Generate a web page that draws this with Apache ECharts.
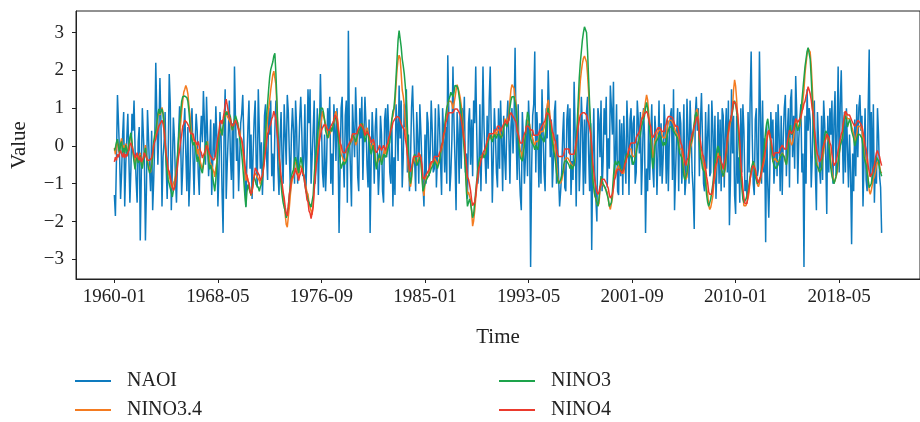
<!DOCTYPE html>
<html>
<head>
<meta charset="utf-8">
<script src="https://cdn.jsdelivr.net/npm/echarts@6/dist/echarts.min.js"></script>
<style>
  html, body { margin: 0; padding: 0; background: #fff; }
  #chart { width: 920px; height: 422px; }
</style>
</head>
<body>
<div id="chart"></div>
<script>
// Monthly index values, January 1960 to October 2021 (one row per year)
const naoi = [
  -1.30,-1.85,-0.40,1.35,0.60,-0.20,-1.40,-0.70,0.30,0.90,-1.60,-0.50,
  0.20,0.85,-0.30,-1.50,-0.60,0.85,0.40,1.20,-0.10,-0.90,-1.50,0.10,
  0.50,-2.50,-0.80,1.00,0.30,-0.40,-2.50,-1.10,0.95,0.20,-0.60,-1.20,
  0.40,-1.70,-0.90,0.10,2.20,0.80,-0.50,0.40,1.80,0.60,-1.60,-0.30,
  0.10,0.90,-0.50,-1.40,-0.20,1.90,1.10,-1.70,-0.60,0.75,0.20,-0.90,
  -1.50,-0.40,0.30,1.05,0.20,-1.30,-0.60,0.40,1.00,-0.20,-1.20,0.50,
  -1.60,-0.80,0.60,1.00,-0.30,-1.30,0.10,0.85,0.40,-0.70,-1.30,0.20,
  0.80,0.10,1.45,0.60,-0.50,1.30,0.30,-0.80,-0.20,0.70,-1.30,-0.40,
  0.60,-0.30,1.05,0.20,-1.60,-0.70,0.90,0.30,-1.20,-2.30,0.40,1.50,
  -1.40,-0.50,0.30,1.20,-0.20,-0.90,0.60,-1.40,2.10,0.70,-0.40,0.20,
  -1.20,-0.30,0.60,0.85,1.35,0.20,-0.70,-1.60,-0.40,0.50,1.20,-0.60,
  0.30,-1.40,-0.20,0.70,1.20,-0.50,-1.10,1.50,0.40,-0.60,0.10,-1.30,
  -0.40,0.80,1.10,-0.30,-0.90,1.00,0.30,1.20,-0.80,-0.20,-1.20,0.40,
  1.20,0.50,-0.60,-1.30,0.20,0.90,-0.40,-1.00,1.10,0.30,-0.50,1.35,
  0.90,-0.20,-1.20,0.30,1.00,0.40,-1.00,1.20,0.50,-1.00,-0.30,0.70,
  1.30,0.40,-0.80,-0.30,1.10,-1.20,-0.20,1.50,0.60,1.50,-1.00,-0.30,
  0.40,1.20,-1.00,-0.30,1.00,-1.30,0.20,1.90,0.60,-0.70,-1.10,0.30,
  -1.20,-0.40,1.00,0.30,1.30,-1.00,-0.20,-1.30,1.10,0.50,-0.40,1.00,
  0.20,-2.30,-0.60,1.00,1.30,-0.30,-1.10,0.80,1.20,-1.50,3.05,0.30,
  -0.60,-1.60,1.10,0.40,-0.30,1.55,0.60,-0.80,-1.20,1.00,0.20,1.30,
  -0.90,0.30,1.30,0.60,-0.50,-1.10,0.70,-2.30,-0.40,0.90,0.20,-1.00,
  0.50,1.00,-0.20,-1.30,-0.60,0.80,0.30,-1.20,-1.50,0.70,1.00,-0.30,
  1.10,0.40,-0.70,-1.00,0.60,-1.60,-0.30,-1.30,1.10,0.60,-0.40,1.60,
  0.20,1.20,-1.10,-0.30,1.10,0.50,1.50,-0.70,0.30,-1.20,-0.40,1.00,
  1.60,0.60,-0.40,-1.20,0.90,0.20,-1.00,1.10,0.40,-0.50,-1.00,-1.60,
  0.30,-1.00,0.90,0.60,-0.80,-0.20,1.20,0.40,-0.70,-0.60,1.00,-1.10,
  -0.30,1.10,0.60,-0.40,-1.30,1.00,0.30,-0.70,0.50,-1.00,2.40,0.90,
  -1.20,-0.70,0.20,2.10,0.60,-0.40,-1.70,0.90,0.30,-1.00,1.20,-0.60,
  1.00,0.40,1.30,-0.70,-0.20,-1.40,0.60,1.00,-0.50,0.70,-0.80,1.20,
  0.60,2.10,0.30,-1.00,-0.70,1.10,-1.20,0.20,2.10,0.50,-0.30,-1.00,
  0.80,-0.60,1.20,2.10,0.40,-1.50,-0.30,1.00,0.30,-0.70,-1.10,1.00,
  -0.60,1.20,0.20,-1.20,0.80,-0.30,-0.90,0.60,1.20,0.30,-1.00,0.50,
  1.00,-0.20,0.70,2.60,0.30,-0.90,1.10,-0.60,-1.30,-1.70,0.90,0.20,
  -1.00,-0.30,0.70,-0.80,1.20,0.40,-3.20,-0.60,0.80,1.10,2.50,-0.70,
  0.90,0.30,-1.10,0.60,-1.00,1.50,0.40,-0.70,-1.20,1.00,0.20,2.00,
  1.00,-0.30,0.70,-1.10,-0.40,0.90,1.20,-1.00,0.30,-0.80,-1.60,-1.20,
  -0.70,0.30,0.90,-1.10,-1.20,0.70,1.10,-0.20,1.00,-1.30,-0.40,-0.90,
  1.70,0.40,-1.60,0.20,1.00,-1.20,-0.30,1.30,0.50,-1.30,0.70,-1.00,
  0.90,1.30,-0.20,-1.20,0.60,-2.75,-0.40,1.00,-0.70,-1.40,-2.00,1.00,
  0.70,-0.30,1.20,-1.20,-0.40,1.00,0.30,1.30,-1.10,0.20,-0.60,1.60,
  1.00,0.30,1.70,-0.90,-0.20,1.10,-1.20,-1.30,0.70,-0.80,0.60,-1.30,
  0.80,-0.20,-1.00,1.20,0.30,-1.30,0.70,1.00,-0.50,0.60,0.80,-1.00,
  -0.70,1.20,0.70,-0.20,0.90,-1.30,-0.40,1.00,0.30,-2.30,-0.60,-1.20,
  0.70,-0.90,0.20,1.10,-0.60,-1.10,0.80,0.30,-1.30,-0.20,1.20,-0.80,
  0.60,-1.00,-0.30,1.10,0.40,-1.00,0.70,-1.20,0.20,0.80,1.00,-0.90,
  1.50,-1.70,-0.70,0.30,1.00,-1.20,0.90,0.60,-1.00,-0.30,1.10,-1.30,
  -0.90,1.25,0.30,-1.00,1.20,0.40,-0.70,-1.20,-2.20,0.80,1.30,0.40,
  1.00,-0.80,0.60,1.40,0.20,-1.00,-1.20,0.90,-0.60,0.30,1.10,-0.80,
  -0.70,1.20,0.40,-1.00,0.80,-1.40,-0.50,0.90,-1.00,0.70,-1.20,1.00,
  0.80,-1.10,0.30,1.00,-0.70,1.20,-2.10,-0.90,1.50,-0.20,0.80,-1.30,
  -1.80,0.80,-1.00,-0.30,-1.50,1.00,-0.70,1.10,0.40,-1.20,-0.90,-1.40,
  0.90,-0.70,1.20,2.50,0.30,-1.00,-1.30,0.70,1.00,-0.80,-0.60,2.50,
  0.80,-1.00,1.20,-0.70,0.20,-2.55,0.60,-1.00,-1.90,-0.70,0.90,0.20,
  0.70,-1.00,-0.40,0.90,-0.80,1.10,0.30,-1.20,0.80,-1.30,0.20,1.00,
  1.35,-0.80,0.40,1.00,-1.10,1.20,1.50,-0.30,0.80,-0.60,1.85,0.90,
  -1.00,0.20,0.70,1.10,-0.70,-0.20,-3.20,0.80,-1.00,1.50,0.40,1.00,
  0.70,-1.10,-0.30,1.00,1.20,-0.70,-1.70,0.90,0.20,-0.60,-1.00,0.80,
  -0.90,1.20,0.60,-0.30,-1.80,0.80,-0.70,1.00,0.30,1.20,-1.00,0.70,
  1.45,-0.80,0.30,2.10,-0.70,1.10,2.00,0.40,-1.00,0.90,-0.70,1.00,
  1.00,-1.10,0.30,-0.70,-2.60,-0.20,-1.20,0.70,-0.80,1.10,-0.30,1.00,
  1.35,0.40,0.80,-1.60,-0.40,1.00,-0.90,-1.20,1.00,2.55,-0.80,0.90,
  -1.00,1.10,-1.50,-0.40,-1.00,1.00,0.30,-0.80,-1.10,-2.30
];

const nino34 = [
  -0.05,-0.22,0.04,0.12,-0.12,-0.18,0.08,0.20,-0.08,0.02,-0.14,0.06,
  -0.02,-0.18,-0.10,0.16,0.30,0.08,-0.12,-0.32,-0.48,-0.28,-0.22,-0.34,
  -0.28,-0.18,-0.42,-0.52,-0.30,-0.18,0.02,-0.24,-0.38,-0.52,-0.62,-0.70,
  -0.48,-0.26,0.04,0.22,0.28,0.52,0.78,0.92,0.82,0.90,1.02,0.88,
  0.58,0.16,-0.24,-0.52,-0.72,-0.78,-0.92,-1.04,-1.12,-0.98,-0.92,-0.78,
  -0.58,-0.32,0.04,0.32,0.58,0.92,1.18,1.42,1.50,1.60,1.52,1.38,
  1.08,0.82,0.48,0.32,0.18,0.22,0.08,-0.02,-0.22,-0.08,-0.28,-0.42,
  -0.38,-0.62,-0.48,-0.28,-0.22,0.04,0.12,-0.18,-0.42,-0.38,-0.52,-0.62,
  -0.68,-0.82,-0.58,-0.42,-0.08,0.22,0.38,0.44,0.28,0.52,0.72,0.78,
  0.92,0.78,0.82,0.68,0.62,0.48,0.42,0.52,0.58,0.72,0.68,0.62,
  0.48,0.42,0.18,0.12,-0.12,-0.42,-0.68,-0.92,-0.78,-0.82,-1.02,-1.18,
  -1.32,-1.28,-1.02,-0.78,-0.72,-0.68,-0.82,-0.78,-0.92,-1.02,-0.98,-0.82,
  -0.58,-0.32,0.12,0.38,0.72,0.98,1.22,1.48,1.68,1.88,1.98,2.02,
  1.62,1.02,0.28,-0.22,-0.62,-0.88,-1.12,-1.28,-1.52,-1.82,-2.08,-2.15,
  -1.88,-1.62,-1.28,-1.02,-0.88,-0.82,-0.48,-0.42,-0.52,-0.68,-0.82,-0.58,
  -0.52,-0.58,-0.72,-0.78,-0.92,-1.08,-1.22,-1.28,-1.52,-1.48,-1.72,-1.82,
  -1.52,-1.08,-0.72,-0.48,-0.22,0.02,0.28,0.52,0.68,0.92,0.78,0.82,
  0.58,0.52,0.28,0.22,0.32,0.38,0.42,0.52,0.62,0.82,0.92,0.78,
  0.62,0.28,0.02,-0.22,-0.28,-0.32,-0.42,-0.38,-0.32,-0.18,-0.12,0.02,
  -0.02,0.12,0.18,0.32,0.22,0.02,0.08,0.32,0.38,0.52,0.58,0.62,
  0.58,0.42,0.28,0.42,0.48,0.38,0.22,0.02,-0.12,0.02,0.08,-0.02,
  -0.28,-0.52,-0.48,-0.38,-0.32,-0.28,-0.42,-0.28,-0.22,-0.08,-0.22,-0.12,
  0.02,0.08,0.22,0.48,0.72,0.78,0.82,1.12,1.58,2.02,2.28,2.40,
  2.32,1.92,1.48,1.32,1.08,0.62,0.18,-0.22,-0.62,-0.92,-1.08,-0.88,
  -0.48,-0.42,-0.28,-0.42,-0.48,-0.38,-0.32,-0.22,-0.32,-0.72,-1.12,-1.32,
  -0.98,-0.82,-0.78,-0.82,-0.68,-0.62,-0.48,-0.52,-0.38,-0.32,-0.28,-0.42,
  -0.52,-0.48,-0.32,-0.18,-0.12,0.02,0.22,0.38,0.72,0.88,1.12,1.18,
  1.22,1.18,1.12,0.98,1.12,1.28,1.48,1.62,1.58,1.42,1.28,1.08,
  0.82,0.48,0.12,-0.38,-1.02,-1.28,-1.22,-1.18,-1.42,-1.72,-2.12,-1.98,
  -1.72,-1.38,-1.08,-0.82,-0.58,-0.42,-0.28,-0.32,-0.22,-0.18,-0.22,-0.08,
  0.08,0.22,0.28,0.32,0.18,0.22,0.28,0.32,0.38,0.28,0.42,0.38,
  0.42,0.28,0.22,0.32,0.48,0.72,0.68,0.62,0.58,0.82,1.18,1.48,
  1.62,1.58,1.52,1.28,1.12,0.68,0.32,0.08,-0.12,-0.18,-0.32,-0.08,
  0.12,0.28,0.52,0.68,0.72,0.58,0.32,0.28,0.22,0.08,0.02,0.12,
  0.08,0.12,0.18,0.32,0.38,0.42,0.38,0.42,0.58,0.82,1.08,1.22,
  0.98,0.72,0.48,0.32,0.08,0.02,-0.22,-0.48,-0.82,-0.98,-1.02,-0.98,
  -0.92,-0.78,-0.62,-0.38,-0.32,-0.28,-0.32,-0.28,-0.42,-0.38,-0.52,-0.48,
  -0.52,-0.38,-0.08,0.32,0.78,1.28,1.72,1.98,2.18,2.32,2.38,2.36,
  2.22,1.88,1.42,0.88,0.38,-0.22,-0.78,-1.08,-1.32,-1.38,-1.52,-1.58,
  -1.52,-1.18,-1.02,-0.98,-1.02,-0.98,-1.12,-1.08,-1.22,-1.42,-1.58,-1.68,
  -1.72,-1.38,-1.08,-0.82,-0.68,-0.62,-0.58,-0.52,-0.48,-0.62,-0.72,-0.68,
  -0.72,-0.48,-0.42,-0.28,-0.32,-0.08,-0.12,-0.08,-0.22,-0.28,-0.32,-0.28,
  -0.08,0.02,0.08,0.22,0.38,0.72,0.78,0.92,0.98,1.18,1.35,1.22,
  0.88,0.62,0.38,0.02,-0.32,-0.18,0.12,0.18,0.32,0.28,0.42,0.38,
  0.42,0.28,0.22,0.18,0.22,0.32,0.48,0.62,0.68,0.72,0.68,0.72,
  0.58,0.62,0.38,0.42,0.28,0.12,-0.08,-0.12,-0.08,-0.32,-0.62,-0.78,
  -0.88,-0.82,-0.58,-0.42,-0.08,0.02,0.12,0.28,0.52,0.78,0.92,0.98,
  0.72,0.18,-0.12,-0.28,-0.42,-0.48,-0.62,-0.78,-1.12,-1.28,-1.58,-1.68,
  -1.62,-1.48,-1.32,-0.98,-0.82,-0.58,-0.42,-0.18,-0.22,-0.38,-0.62,-0.68,
  -0.82,-0.78,-0.62,-0.28,0.02,0.32,0.48,0.62,0.72,1.02,1.48,1.75,
  1.58,1.22,0.78,0.42,-0.18,-0.72,-0.98,-1.32,-1.58,-1.62,-1.58,-1.62,
  -1.38,-1.22,-0.88,-0.72,-0.58,-0.42,-0.48,-0.62,-0.78,-1.02,-1.08,-0.98,
  -0.88,-0.72,-0.58,-0.48,-0.32,0.02,0.22,0.38,0.42,0.28,0.12,-0.18,
  -0.42,-0.38,-0.32,-0.28,-0.42,-0.38,-0.42,-0.28,-0.32,-0.18,-0.22,-0.28,
  -0.42,-0.48,-0.28,0.02,0.22,0.18,0.02,0.08,0.22,0.48,0.62,0.68,
  0.52,0.48,0.52,0.72,0.88,1.22,1.48,1.92,2.18,2.42,2.58,2.62,
  2.48,2.12,1.58,0.92,0.38,-0.12,-0.42,-0.48,-0.62,-0.68,-0.72,-0.58,
  -0.32,-0.18,0.08,0.22,0.28,0.32,0.08,-0.12,-0.42,-0.68,-0.82,-0.98,
  -0.92,-0.88,-0.72,-0.48,-0.22,0.02,0.12,0.18,0.52,0.78,0.92,0.78,
  0.72,0.68,0.72,0.68,0.52,0.48,0.32,0.08,0.18,0.32,0.52,0.48,
  0.52,0.48,0.42,0.18,-0.12,-0.32,-0.38,-0.62,-0.88,-1.18,-1.28,-1.18,
  -1.02,-0.88,-0.82,-0.68,-0.52,-0.42,-0.38,-0.52,-0.68,-0.72
];

const nino3 = [
  -0.12,-0.05,0.10,0.18,-0.02,-0.20,0.05,0.12,-0.18,-0.05,-0.20,0.02,
  0.05,-0.25,0.02,0.22,0.35,0.10,-0.20,-0.42,-0.62,-0.38,-0.30,-0.45,
  -0.38,-0.25,-0.50,-0.60,-0.38,-0.20,-0.05,-0.30,-0.45,-0.60,-0.72,-0.75,
  -0.55,-0.30,0.10,0.30,0.40,0.62,0.85,0.98,0.85,0.92,0.98,0.85,
  0.50,0.02,-0.40,-0.72,-0.90,-1.00,-1.12,-1.22,-1.35,-1.18,-1.10,-0.90,
  -0.62,-0.22,0.18,0.58,0.88,1.18,1.30,1.25,1.32,1.35,1.28,1.18,
  0.92,0.58,0.30,0.12,0.02,0.10,-0.02,-0.22,-0.42,-0.28,-0.45,-0.55,
  -0.60,-0.72,-0.50,-0.28,0.02,0.12,-0.12,-0.40,-0.62,-0.50,-0.62,-0.82,
  -1.02,-1.20,-0.88,-0.50,-0.12,0.30,0.52,0.42,0.28,0.52,0.68,0.82,
  0.90,0.82,0.92,0.88,0.78,0.58,0.42,0.52,0.70,0.80,0.78,0.62,
  0.42,0.20,0.02,-0.22,-0.52,-0.90,-1.30,-1.62,-1.22,-1.02,-1.12,-1.22,
  -1.30,-1.18,-0.92,-0.82,-0.90,-1.02,-0.98,-1.10,-1.20,-1.08,-1.02,-0.82,
  -0.50,-0.08,0.40,0.80,1.12,1.50,1.82,2.02,2.12,2.22,2.38,2.45,
  1.92,1.20,0.40,-0.30,-0.72,-1.02,-1.30,-1.50,-1.62,-1.72,-1.90,-1.80,
  -1.60,-1.30,-1.02,-0.80,-0.70,-0.62,-0.40,-0.30,-0.42,-0.60,-0.72,-0.50,
  -0.30,-0.42,-0.60,-0.80,-1.02,-1.20,-1.30,-1.42,-1.50,-1.52,-1.62,-1.60,
  -1.30,-0.80,-0.40,-0.10,0.20,0.50,0.80,1.00,1.05,1.00,0.88,0.70,
  0.40,0.30,0.20,0.22,0.40,0.50,0.38,0.50,0.70,0.80,0.82,0.60,
  0.30,0.00,-0.40,-0.60,-0.50,-0.42,-0.50,-0.52,-0.40,-0.30,-0.12,0.02,
  0.10,0.20,0.30,0.28,0.20,0.10,0.20,0.30,0.40,0.42,0.50,0.60,
  0.50,0.30,0.10,0.22,0.40,0.30,0.12,-0.10,-0.22,-0.10,0.02,-0.10,
  -0.40,-0.62,-0.42,-0.30,-0.20,-0.32,-0.50,-0.40,-0.22,-0.20,-0.30,-0.22,
  -0.10,0.02,0.10,0.42,0.70,0.92,1.00,1.32,1.80,2.30,2.80,3.05,
  3.00,2.62,2.30,2.12,1.90,1.58,1.20,0.50,-0.30,-0.82,-1.00,-0.80,
  -0.50,-0.30,-0.22,-0.30,-0.52,-0.50,-0.40,-0.30,-0.42,-0.80,-1.20,-1.22,
  -1.00,-0.92,-0.90,-0.80,-0.82,-0.70,-0.60,-0.62,-0.50,-0.40,-0.42,-0.50,
  -0.60,-0.50,-0.42,-0.20,0.02,0.10,0.30,0.52,0.80,1.00,1.10,1.22,
  1.30,1.42,1.40,1.30,1.42,1.60,1.65,1.58,1.50,1.30,1.10,0.90,
  0.60,0.20,-0.20,-0.62,-1.20,-1.60,-1.50,-1.40,-1.52,-1.70,-1.90,-1.80,
  -1.50,-1.20,-0.90,-0.60,-0.42,-0.30,-0.32,-0.30,-0.20,-0.32,-0.30,-0.20,
  0.00,0.10,0.22,0.30,0.20,0.10,0.22,0.30,0.32,0.20,0.30,0.32,
  0.30,0.20,0.22,0.30,0.50,0.62,0.60,0.50,0.52,0.70,1.00,1.20,
  1.30,1.32,1.30,1.28,1.00,0.60,0.20,-0.10,-0.30,-0.32,-0.40,-0.20,
  0.00,0.30,0.60,0.90,0.80,0.50,0.20,0.10,0.12,0.00,-0.10,0.02,
  0.00,-0.10,0.10,0.30,0.32,0.20,0.22,0.10,0.30,0.50,0.80,1.00,
  0.80,0.50,0.30,0.10,-0.10,-0.22,-0.40,-0.70,-0.90,-1.00,-1.02,-0.90,
  -0.80,-0.70,-0.50,-0.40,-0.42,-0.40,-0.42,-0.50,-0.60,-0.50,-0.62,-0.60,
  -0.50,-0.30,0.10,0.60,1.20,1.80,2.20,2.50,2.80,3.00,3.15,3.20,
  3.00,2.50,1.80,1.10,0.50,-0.30,-0.90,-1.10,-1.30,-1.40,-1.50,-1.60,
  -1.40,-1.10,-0.80,-0.90,-1.00,-1.02,-1.10,-1.20,-1.30,-1.40,-1.60,-1.60,
  -1.50,-1.20,-0.80,-0.50,-0.40,-0.50,-0.52,-0.40,-0.50,-0.60,-0.70,-0.72,
  -0.60,-0.40,-0.30,-0.20,-0.30,-0.22,-0.20,-0.30,-0.40,-0.50,-0.42,-0.40,
  -0.20,0.00,0.10,0.12,0.30,0.50,0.60,0.70,0.80,1.00,1.15,1.00,
  0.70,0.40,0.10,-0.30,-0.60,-0.40,0.00,0.10,0.12,0.20,0.30,0.32,
  0.20,0.10,0.00,0.10,0.02,0.10,0.30,0.40,0.50,0.52,0.50,0.50,
  0.40,0.42,0.30,0.30,0.20,0.00,-0.20,-0.22,-0.30,-0.50,-0.80,-0.90,
  -0.90,-0.70,-0.50,-0.30,0.00,0.10,0.20,0.40,0.60,0.80,0.90,0.95,
  0.60,0.10,-0.30,-0.40,-0.60,-0.62,-0.70,-1.00,-1.30,-1.50,-1.60,-1.62,
  -1.40,-1.20,-1.00,-0.70,-0.40,-0.30,-0.10,0.00,-0.10,-0.30,-0.50,-0.70,
  -0.80,-0.70,-0.50,-0.20,0.20,0.50,0.60,0.70,0.72,0.90,1.10,1.20,
  1.10,0.90,0.60,0.20,-0.40,-0.80,-1.10,-1.40,-1.50,-1.52,-1.40,-1.42,
  -1.20,-1.00,-0.80,-0.60,-0.50,-0.40,-0.60,-0.80,-0.90,-1.00,-1.02,-0.90,
  -0.80,-0.60,-0.40,-0.20,0.10,0.40,0.60,0.72,0.50,0.30,0.10,-0.20,
  -0.40,-0.50,-0.52,-0.60,-0.62,-0.50,-0.40,-0.30,-0.32,-0.20,-0.22,-0.30,
  -0.40,-0.50,-0.30,0.10,0.40,0.55,0.30,0.32,0.40,0.50,0.60,0.62,
  0.40,0.42,0.60,0.90,1.20,1.50,1.80,2.10,2.30,2.50,2.60,2.65,
  2.30,1.80,1.20,0.60,0.10,-0.30,-0.50,-0.52,-0.60,-0.70,-0.72,-0.60,
  -0.20,0.00,0.30,0.40,0.42,0.30,0.10,-0.30,-0.60,-0.80,-0.90,-1.00,
  -0.90,-0.80,-0.60,-0.40,-0.20,0.00,0.10,0.20,0.40,0.70,0.80,0.70,
  0.50,0.60,0.70,0.62,0.40,0.30,0.20,0.00,0.02,0.20,0.30,0.32,
  0.30,0.32,0.20,0.00,-0.30,-0.40,-0.50,-0.70,-0.90,-1.10,-1.12,-1.00,
  -0.80,-0.60,-0.50,-0.40,-0.30,-0.32,-0.40,-0.60,-0.62,-0.80
];

const nino4 = [
  -0.42,-0.30,-0.38,-0.22,-0.30,-0.18,-0.12,-0.22,-0.30,-0.18,-0.32,-0.22,
  -0.28,-0.18,-0.12,0.02,0.08,-0.02,-0.12,-0.22,-0.32,-0.28,-0.18,-0.32,
  -0.38,-0.28,-0.42,-0.38,-0.32,-0.18,-0.22,-0.32,-0.38,-0.42,-0.38,-0.42,
  -0.32,-0.18,0.02,0.12,0.18,0.32,0.28,0.52,0.58,0.62,0.68,0.58,
  0.42,0.08,-0.22,-0.38,-0.62,-0.68,-0.82,-0.98,-1.08,-1.18,-1.12,-0.98,
  -0.78,-0.52,-0.28,-0.12,0.12,0.28,0.52,0.58,0.68,0.72,0.62,0.58,
  0.52,0.38,0.32,0.28,0.32,0.18,0.22,0.08,0.02,0.12,-0.02,-0.12,
  -0.18,-0.32,-0.28,-0.18,-0.12,0.02,-0.02,-0.12,-0.22,-0.18,-0.32,-0.28,
  -0.38,-0.32,-0.18,0.02,0.22,0.38,0.62,0.68,0.58,0.72,0.88,1.08,
  1.24,1.08,0.92,0.78,0.72,0.58,0.52,0.48,0.62,0.68,0.72,0.52,
  0.42,0.28,0.32,0.18,0.02,-0.22,-0.48,-0.72,-0.78,-0.92,-0.98,-1.18,
  -1.28,-1.22,-0.98,-0.82,-0.58,-0.62,-0.68,-0.72,-0.78,-0.92,-0.88,-0.78,
  -0.62,-0.38,-0.12,0.08,0.32,0.38,0.52,0.58,0.72,0.78,0.92,0.88,
  0.72,0.38,0.12,-0.22,-0.48,-0.82,-0.98,-1.22,-1.38,-1.62,-1.78,-1.85,
  -1.62,-1.28,-1.12,-0.88,-0.82,-0.78,-0.72,-0.58,-0.72,-0.78,-0.92,-0.78,
  -0.72,-0.58,-0.72,-0.78,-1.02,-1.18,-1.42,-1.48,-1.72,-1.78,-1.92,-1.88,
  -1.62,-1.18,-0.82,-0.48,-0.32,-0.08,0.12,0.28,0.42,0.48,0.52,0.58,
  0.52,0.48,0.42,0.38,0.42,0.52,0.48,0.62,0.68,0.82,0.78,0.72,
  0.48,0.32,0.08,0.02,-0.12,-0.18,-0.22,-0.18,-0.08,-0.12,0.02,0.08,
  0.12,0.18,0.32,0.28,0.32,0.28,0.32,0.42,0.48,0.52,0.58,0.55,
  0.48,0.42,0.28,0.32,0.38,0.42,0.28,0.22,0.08,0.12,0.18,0.08,
  -0.12,-0.18,-0.22,-0.08,0.02,-0.02,-0.12,-0.08,0.02,-0.02,-0.12,0.02,
  0.08,0.22,0.28,0.42,0.48,0.62,0.58,0.72,0.75,0.78,0.82,0.75,
  0.72,0.58,0.52,0.48,0.42,0.18,0.02,-0.22,-0.38,-0.62,-0.68,-0.58,
  -0.42,-0.28,-0.32,-0.28,-0.32,-0.28,-0.18,-0.22,-0.32,-0.48,-0.82,-0.88,
  -0.82,-0.78,-0.72,-0.68,-0.62,-0.48,-0.42,-0.38,-0.42,-0.28,-0.32,-0.28,
  -0.32,-0.28,-0.18,-0.12,0.02,0.08,0.32,0.38,0.62,0.68,0.82,0.88,
  0.92,0.88,0.92,0.88,0.92,0.98,1.02,0.98,1.02,0.88,0.82,0.68,
  0.52,0.28,0.12,-0.22,-0.48,-0.82,-0.88,-1.02,-1.18,-1.42,-1.58,-1.62,
  -1.48,-1.32,-0.98,-0.82,-0.58,-0.52,-0.38,-0.32,-0.18,-0.22,-0.08,0.02,
  0.12,0.18,0.32,0.28,0.32,0.28,0.32,0.42,0.38,0.42,0.52,0.48,
  0.52,0.38,0.42,0.52,0.58,0.62,0.68,0.58,0.62,0.68,0.82,0.88,
  0.92,0.78,0.82,0.68,0.62,0.38,0.32,0.18,0.08,0.12,0.08,0.22,
  0.32,0.38,0.52,0.48,0.52,0.48,0.42,0.38,0.42,0.28,0.32,0.28,
  0.32,0.28,0.32,0.42,0.48,0.52,0.58,0.62,0.68,0.82,0.88,0.92,
  0.82,0.68,0.62,0.38,0.32,0.18,0.12,-0.08,-0.22,-0.28,-0.32,-0.28,
  -0.32,-0.28,-0.22,-0.08,-0.12,-0.08,-0.12,-0.08,-0.22,-0.18,-0.22,-0.18,
  -0.22,-0.08,0.12,0.28,0.52,0.68,0.82,0.78,0.88,0.92,0.88,0.85,
  0.82,0.68,0.62,0.48,0.32,0.02,-0.42,-0.68,-0.92,-1.08,-1.22,-1.28,
  -1.22,-1.08,-1.02,-0.88,-0.92,-0.88,-0.92,-0.98,-1.02,-1.12,-1.28,-1.38,
  -1.42,-1.28,-1.12,-0.88,-0.82,-0.68,-0.62,-0.58,-0.62,-0.58,-0.72,-0.68,
  -0.62,-0.48,-0.42,-0.28,-0.22,-0.08,0.02,0.08,0.12,0.08,0.12,0.08,
  0.22,0.28,0.32,0.38,0.52,0.68,0.72,0.78,0.85,0.88,0.92,0.85,
  0.72,0.58,0.52,0.28,0.22,0.18,0.32,0.38,0.42,0.48,0.52,0.48,
  0.52,0.38,0.42,0.38,0.52,0.58,0.72,0.78,0.82,0.78,0.82,0.75,
  0.72,0.58,0.52,0.48,0.52,0.38,0.22,0.08,0.02,-0.12,-0.28,-0.42,
  -0.52,-0.38,-0.32,-0.08,0.12,0.18,0.32,0.38,0.52,0.58,0.72,0.78,
  0.62,0.28,0.12,-0.08,-0.22,-0.28,-0.42,-0.58,-0.82,-0.98,-1.22,-1.28,
  -1.32,-1.28,-1.12,-0.88,-0.62,-0.48,-0.42,-0.28,-0.32,-0.28,-0.42,-0.48,
  -0.62,-0.48,-0.32,-0.08,0.22,0.38,0.62,0.68,0.82,0.98,1.18,1.22,
  1.12,0.98,0.82,0.48,0.12,-0.42,-0.78,-1.12,-1.38,-1.52,-1.48,-1.52,
  -1.28,-1.12,-0.88,-0.72,-0.58,-0.52,-0.48,-0.62,-0.78,-0.92,-0.98,-0.88,
  -0.82,-0.68,-0.52,-0.38,-0.22,-0.08,0.12,0.28,0.42,0.32,0.18,0.02,
  -0.22,-0.28,-0.18,-0.22,-0.18,-0.22,-0.18,-0.08,-0.12,0.02,-0.02,-0.08,
  -0.12,-0.08,0.12,0.28,0.42,0.38,0.32,0.28,0.42,0.58,0.72,0.68,
  0.62,0.58,0.72,0.78,0.92,0.98,1.12,1.18,1.32,1.42,1.57,1.48,
  1.38,1.22,0.98,0.82,0.48,0.22,-0.08,-0.22,-0.28,-0.42,-0.38,-0.32,
  -0.08,0.02,0.12,0.18,0.32,0.28,0.22,0.08,0.02,-0.22,-0.38,-0.52,
  -0.48,-0.42,-0.28,-0.12,0.02,0.18,0.32,0.38,0.62,0.78,0.92,0.88,
  0.82,0.78,0.82,0.78,0.68,0.62,0.58,0.52,0.48,0.62,0.68,0.72,
  0.62,0.58,0.52,0.38,0.22,0.02,-0.08,-0.28,-0.52,-0.68,-0.82,-0.78,
  -0.72,-0.58,-0.52,-0.32,-0.18,-0.12,-0.22,-0.28,-0.42,-0.52
];

// Axis tick labels (first month of every 100-month block) and value ticks
const tickLabels = ['1960-01', '1968-05', '1976-09', '1985-01', '1993-05', '2001-09', '2010-01', '2018-05'];
const yTicks = [-3, -2, -1, 0, 1, 2, 3];
const seriesNames = ['NAOI', 'NINO3.4', 'NINO3', 'NINO4'];
const seriesValues = [naoi, nino34, nino3, nino4];
const seriesColors = ['#0e7bbf', '#f47b20', '#1da34b', '#eb3a2d'];

const months = naoi.map((_, i) =>
  (1960 + Math.floor(i / 12)) + '-' + String(i % 12 + 1).padStart(2, '0'));
const tickIdx = tickLabels.map(l => months.indexOf(l));
const last = months.length - 1;
const margin = 0.05 * last;

const font = "'Liberation Serif', 'Times New Roman', serif";
const ink = '#222';

const chart = echarts.init(document.getElementById('chart'), null, { renderer: 'canvas' });

// Two legend columns, each stacked vertically
const legendColumns = [
  { data: ['NAOI', 'NINO3.4'], left: 75 },
  { data: ['NINO3', 'NINO4'], left: 499 }
];

chart.setOption({
  animation: false,
  backgroundColor: '#fff',
  textStyle: { fontFamily: font },
  grid: {
    left: 76, top: 11, width: 853.5, height: 268,
    show: true, borderColor: ink, borderWidth: 1, backgroundColor: 'transparent'
  },
  xAxis: {
    type: 'value',
    min: -margin, max: last + margin,
    name: 'Time', nameLocation: 'middle', nameGap: 48,
    nameTextStyle: { fontFamily: font, fontSize: 21, color: ink },
    axisLine: { show: true, onZero: false, lineStyle: { color: ink, width: 1 } },
    axisTick: { show: true, length: 4, customValues: tickIdx, lineStyle: { color: ink } },
    axisLabel: {
      customValues: tickIdx, margin: 9,
      fontFamily: font, fontSize: 19, color: ink,
      formatter: v => months[Math.round(v)]
    },
    splitLine: { show: false }
  },
  yAxis: {
    type: 'value',
    min: -3.52, max: 3.57,
    name: 'Value', nameLocation: 'middle', nameGap: 46, nameRotate: 90,
    nameTextStyle: { fontFamily: font, fontSize: 21, color: ink },
    axisLine: { show: true, onZero: false, lineStyle: { color: ink, width: 1 } },
    axisTick: { show: true, length: 4, customValues: yTicks, lineStyle: { color: ink } },
    axisLabel: {
      customValues: yTicks, margin: 12,
      fontFamily: font, fontSize: 19, color: ink,
      formatter: v => (v < 0 ? '\u2212' + Math.abs(v) : String(v))
    },
    splitLine: { show: false }
  },
  legend: legendColumns.map(col => ({
    data: col.data, left: col.left, top: 370, height: 52, padding: 0,
    orient: 'vertical',
    icon: 'rect', itemWidth: 36, itemHeight: 2, itemGap: 7,
    textStyle: { fontFamily: font, fontSize: 20, color: ink, padding: [0, 0, 0, 11], lineHeight: 22 }
  })),
  series: seriesNames.map((name, k) => ({
    name, type: 'line',
    data: seriesValues[k].map((v, i) => [i, v]),
    showSymbol: false, symbol: 'none',
    color: seriesColors[k],
    lineStyle: { width: 1.5, color: seriesColors[k] },
    emphasis: { disabled: true }
  }))
});
</script>
</body>
</html>
